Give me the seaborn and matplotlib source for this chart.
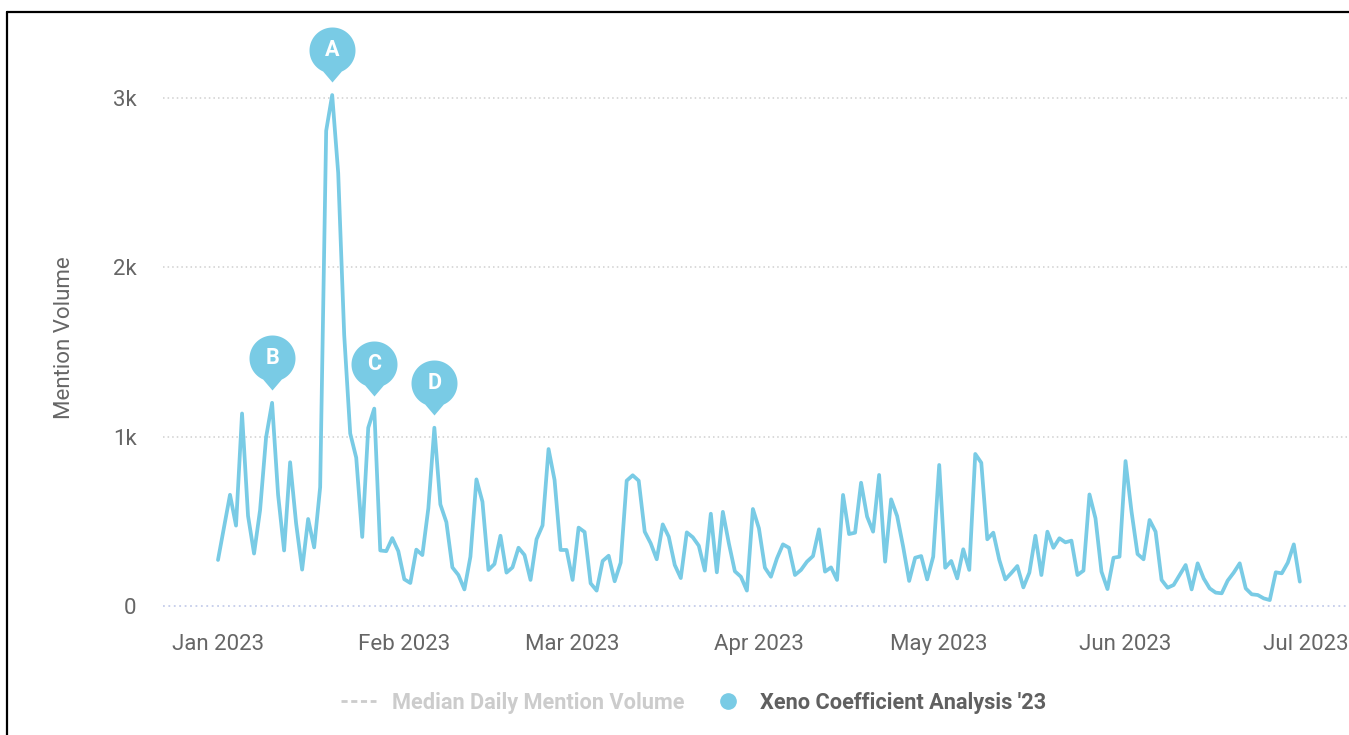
import numpy as np
import pandas as pd
import matplotlib
matplotlib.use("Agg")
import matplotlib.pyplot as plt
import matplotlib.dates as mdates
from matplotlib.path import Path
from matplotlib.markers import MarkerStyle
from matplotlib.lines import Line2D
from matplotlib.ticker import FixedLocator, FixedFormatter
import seaborn as sns

# Daily mention volume, 1 Jan - 30 Jun 2023
start_date = "2023-01-01"
mention_volume = [
    272, 465, 657, 475, 1137, 532, 310, 566, 996, 1200,
    657, 328, 849, 487, 215, 514, 346, 702, 2807, 3018,
    2558, 1600, 1019, 876, 408, 1053, 1166, 328, 324, 401,
    324, 158, 136, 333, 301, 577, 1053, 600, 495, 228,
    183, 98, 291, 748, 616, 213, 248, 415, 197, 228,
    344, 301, 154, 394, 476, 927, 744, 331, 331, 154,
    463, 437, 134, 91, 266, 297, 146, 256, 740, 772,
    740, 439, 370, 276, 482, 409, 242, 165, 435, 406,
    356, 209, 545, 199, 556, 370, 205, 173, 91, 573,
    459, 226, 173, 281, 364, 344, 183, 213, 262, 295,
    453, 203, 228, 154, 656, 425, 433, 728, 528, 439,
    774, 262, 630, 531, 350, 148, 285, 295, 157, 291,
    833, 226, 266, 163, 335, 213, 898, 846, 394, 433,
    272, 157, 195, 236, 110, 197, 415, 183, 439, 344,
    400, 376, 386, 183, 209, 659, 518, 203, 100, 285,
    291, 856, 557, 307, 276, 508, 439, 154, 108, 124,
    183, 242, 98, 252, 163, 104, 79, 75, 150, 197,
    252, 104, 69, 65, 45, 35, 199, 193, 256, 364,
    144,
]

# Flagged events (letter, day index into the series)
flag_labels = ["A", "B", "C", "D"]
flag_days = [19, 9, 26, 36]

y_ticks = [0, 1000, 2000, 3000]
y_tick_labels = ["0", "1k", "2k", "3k"]
x_tick_dates = ["2023-01-01", "2023-02-01", "2023-03-01", "2023-04-01",
                "2023-05-01", "2023-06-01", "2023-07-01"]
x_tick_labels = ["Jan 2023", "Feb 2023", "Mar 2023", "Apr 2023",
                 "May 2023", "Jun 2023", "Jul 2023"]

series_name = "Xeno Coefficient Analysis '23"
median_name = "Median Daily Mention Volume"

LINE_COLOR = "#79CBE5"
TEXT_GRAY = "#666666"

dates = pd.date_range(start_date, periods=len(mention_volume), freq="D")
df = pd.DataFrame({"date": dates, "volume": mention_volume})

sns.set_theme(style="white")
plt.rcParams["font.family"] = ["Roboto", "DejaVu Sans"]

W, H, DPI = 1349, 735, 100
fig = plt.figure(figsize=(W / DPI, H / DPI), dpi=DPI)

# plot area in pixel terms
left_px, right_px, bottom_px = 163, 1347, 606
ymax = 3400
px_per_unit = 169.3 / 1000
top_px = bottom_px - ymax * px_per_unit
ax = fig.add_axes([left_px / W, 1 - bottom_px / H,
                   (right_px - left_px) / W, (bottom_px - top_px) / H])

sns.lineplot(data=df, x="date", y="volume", ax=ax, color=LINE_COLOR,
             linewidth=2.7, zorder=3, legend=False)

d0 = mdates.date2num(pd.Timestamp(start_date))
ax.set_xlim(d0 - 9.15, d0 + 187.85)
ax.set_ylim(0, ymax)

ax.yaxis.set_major_locator(FixedLocator(y_ticks))
ax.yaxis.set_major_formatter(FixedFormatter(y_tick_labels))
ax.xaxis.set_major_locator(FixedLocator([mdates.date2num(pd.Timestamp(d)) for d in x_tick_dates]))
ax.xaxis.set_major_formatter(FixedFormatter(x_tick_labels))
ax.tick_params(axis="y", length=0, pad=19, labelsize=16, labelcolor=TEXT_GRAY)
ax.tick_params(axis="x", length=0, pad=20, labelsize=16, labelcolor=TEXT_GRAY)
ax.set_xlabel("")
ax.set_ylabel("")

for s in ax.spines.values():
    s.set_visible(False)

# dotted grid lines
for yv in y_ticks[1:]:
    ax.axhline(yv, color="#cfcfcf", linewidth=1.1, linestyle=(0, (1, 2)), zorder=1)
ax.axhline(0, color="#c5cdea", linewidth=1.3, linestyle=(0, (1, 2)), zorder=1, clip_on=False)

fig.text(65 / W, 1 - 338 / H, "Mention Volume", rotation=90, ha="center", va="center",
         fontsize=16, color=TEXT_GRAY)

# pin-shaped flag marker (pixel units, origin at the data point)
r, cy, tip = 23.0, 45.0, 13.0
phi = np.radians(24)
theta = np.linspace(-np.pi / 2 + phi, 1.5 * np.pi - phi, 120)
verts = [(r * np.cos(t), cy + r * np.sin(t)) for t in theta]
verts.append((0.0, tip))
verts.append(verts[0])
codes = [Path.MOVETO] + [Path.LINETO] * (len(verts) - 2) + [Path.CLOSEPOLY]
pin_path = Path(np.array(verts), codes)
extent = np.max(np.abs(pin_path.vertices))
pin_ms = 2 * extent * 72 / DPI

for lab, day in zip(flag_labels, flag_days):
    xd = dates[day]
    yv = mention_volume[day]
    ax.plot([xd], [yv], marker=MarkerStyle(pin_path), markersize=pin_ms,
            markerfacecolor=LINE_COLOR, markeredgewidth=0, linestyle="none",
            zorder=5, clip_on=False)
    ax.annotate(lab, xy=(xd, yv), xytext=(0, cy * 72 / DPI), textcoords="offset points",
                ha="center", va="center", color="white", fontsize=15.5,
                fontweight="bold", zorder=6, annotation_clip=False)

# legend
handles = [
    Line2D([], [], color="#cccccc", linestyle=(0, (2.2, 1.3)), linewidth=2),
    Line2D([], [], color=LINE_COLOR, marker="o", linestyle="none", markersize=11),
]
leg = fig.legend(handles, [median_name, series_name], loc="center",
                 bbox_to_anchor=(694 / W, 1 - 703 / H), ncol=2, frameon=False,
                 handlelength=1.6, handletextpad=0.7, columnspacing=1.2,
                 prop={"size": 15.7, "weight": "bold"})
texts = leg.get_texts()
texts[0].set_color("#cccccc")
texts[1].set_color("#606060")

# outer frame (top and left edges)
fx = 6.5 / W
fy = 1 - 11.5 / H
fig.add_artist(Line2D([fx, 1.0], [fy, fy], color="black", linewidth=1.6,
                      transform=fig.transFigure))
fig.add_artist(Line2D([fx, fx], [0.0, fy], color="black", linewidth=1.6,
                      transform=fig.transFigure))

fig.savefig("out.png", dpi=DPI)
